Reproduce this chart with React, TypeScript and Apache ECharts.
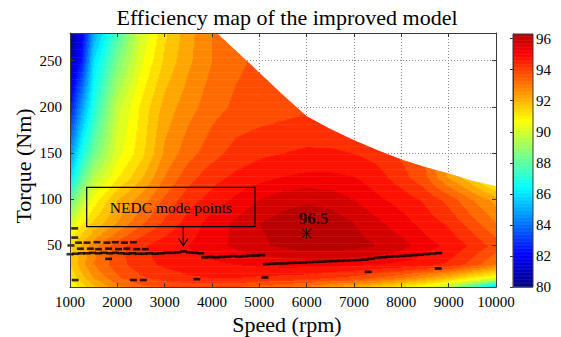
import React, { useEffect, useRef } from 'react';
import * as echarts from 'echarts';

const FONT = 'Liberation Serif';

// ---- Efficiency table ----
const speeds = [1000, 1250, 1500, 2000, 2500, 3000, 3500, 4000, 4500, 5000, 5500, 6000, 6500, 7000, 7500, 8000, 8500, 9000, 9500, 10000];
const torques = [5, 15, 30, 50, 75, 100, 125, 150, 200, 250, 280];
const effT5 = [90.5, 91.2, 91.8, 92.8, 93.3, 93.5, 93.6, 93.6, 93.5, 93.3, 93.0, 92.8, 92.4, 92.0, 91.5, 91.0, 90.4, 89.5, 87.5, 85.2];
const effT15 = [91.0, 91.8, 92.5, 93.4, 93.9, 94.2, 94.4, 94.5, 94.5, 94.4, 94.3, 94.2, 94.0, 93.8, 93.4, 93.0, 92.4, 91.8, 91.0, 90.3];
const effT30 = [91.5, 92.3, 93.0, 93.8, 94.3, 94.6, 94.8, 94.9, 95.0, 95.1, 95.2, 95.2, 95.2, 95.1, 95.0, 94.9, 94.7, 94.4, 93.8, 93.0];
const effT50 = [91.3, 92.1, 92.8, 93.8, 94.4, 94.8, 95.0, 95.3, 95.6, 95.9, 96.1, 96.3, 96.3, 96.2, 96.0, 95.7, 95.2, 94.9, 94.4, 93.8];
const effT75 = [90.0, 90.9, 91.6, 92.5, 93.4, 94.1, 94.7, 95.2, 95.6, 96.0, 96.2, 96.4, 96.3, 96.0, 95.6, 95.2, 94.8, 94.4, 93.7, 93.0];
const effT100 = [88.0, 89.6, 90.7, 92.0, 92.7, 93.6, 94.3, 94.7, 95.1, 95.5, 95.8, 95.9, 95.8, 95.5, 95.1, 94.8, 94.4, 93.8, 93.0, 92.3];
const effT125 = [85.9, 88.0, 89.5, 90.9, 91.9, 93.0, 93.8, 94.3, 94.6, 94.8, 95.0, 95.1, 95.1, 95.0, 94.7, 94.2, 93.6, 92.4, 91.5, 90.2];
const effT150 = [84.6, 86.8, 88.3, 90.3, 91.3, 92.6, 93.3, 93.8, 94.2, 94.4, 94.5, 94.6, 94.6, 94.5, 94.3, 93.9, 93.4, 92.2, 91.8, 91.2];
const effT200 = [82.3, 84.8, 87.0, 89.8, 91.1, 92.2, 92.8, 93.3, 93.6, 93.7, 93.8, 93.9, 93.8, 93.6, 93.4, 93.1, 92.7, 92.3, 91.9, 91.4];
const effT250 = [80.8, 82.6, 86.0, 88.5, 90.4, 91.6, 92.4, 93.0, 93.4, 93.6, 93.7, 93.7, 93.6, 93.4, 93.2, 92.9, 92.6, 92.2, 91.8, 91.3];
const effT280 = [80.4, 81.8, 85.0, 87.8, 90.0, 91.4, 92.3, 93.0, 93.4, 93.6, 93.6, 93.6, 93.5, 93.3, 93.1, 92.8, 92.5, 92.1, 91.7, 91.2];
const effTable = [effT5, effT15, effT30, effT50, effT75, effT100, effT125, effT150, effT200, effT250, effT280];

// ---- Maximum torque envelope ----
const envSpeed = [4100, 4500, 5000, 5500, 6000, 6500, 7000, 7500, 8000, 8500, 9000, 9500, 10000];
const envTorque = [280, 261, 237, 213, 190, 176, 164, 153, 143, 135, 128, 120, 114];

// ---- NEDC operating points ----
const nedcSpeed = [
  1100, 1100, 1180, 1360, 1570, 1780, 1955, 2150, 2340,
  1020, 1220, 1430, 1600, 1815, 2025, 2200, 2410, 2590,
  1815, 1110, 2340, 2550, 3680, 5120, 7300, 8780,
  1000, 1120, 1240, 1360, 1480, 1600, 1720, 1840, 1960, 2080, 2200, 2320, 2440, 2560, 2680, 2800, 2920, 3040, 3160, 3280, 3400, 3520, 3640, 3760,
  3850, 3970, 4090, 4210, 4330, 4450, 4570, 4690, 4810, 4930, 5050,
  5150, 5280, 5410, 5540, 5670, 5800, 5930, 6060, 6190, 6320, 6450, 6580, 6710, 6840, 6970, 7100, 7230, 7360, 7490, 7620, 7750, 7880, 8010, 8140, 8270, 8400, 8530, 8660, 8790
];
const nedcTorque = [
  68.5, 58.5, 53, 53, 53.5, 53, 53.5, 53, 53.5,
  50, 46.5, 46.5, 46, 46.5, 46, 46.5, 46, 46,
  35.5, 12.5, 12.5, 12.5, 13.5, 15.3, 21.4, 25,
  40.5, 41, 41.5, 41.5, 42, 41.5, 42, 41.5, 42, 41.5, 41, 41.5, 41, 41, 41.5, 41, 41.5, 42, 42, 42.5, 43.5, 42.5, 42, 41.5,
  37, 37.5, 37, 37.5, 38, 38.5, 38, 38.5, 39, 39, 39.5,
  29.8, 30.2, 30.5, 30.6, 31, 31.3, 31.5, 31.9, 32.2, 32.4, 32.8, 33.1, 33.3, 33.7, 34, 34.2, 34.6, 35.5, 36.8, 37.2, 37.7, 38.2, 38.6, 39, 39.5, 40, 40.6, 41.2, 41.8
];

const peakSpeed = 6000;
const peakTorque = 63;
const peakValue = 96.5;

const xTicks = [1000, 2000, 3000, 4000, 5000, 6000, 7000, 8000, 9000, 10000];
const yTicks = [50, 100, 150, 200, 250];
const cbTicks = [80, 82, 84, 86, 88, 90, 92, 94, 96];

const S_MIN = 1000, S_MAX = 10000, T_MIN = 5, T_MAX = 280;
const CB_MIN = 80, CB_MAX = 96.3;
const CMAP_MIN = 80, CMAP_MAX = 97.2;
const LEVEL = 0.5;

function clamp01(v: number) { return v < 0 ? 0 : v > 1 ? 1 : v; }
function jet(p: number) {
  const r = clamp01(Math.min(4 * p - 1.5, -4 * p + 4.5));
  const g = clamp01(Math.min(4 * p - 0.5, -4 * p + 3.5));
  const b = clamp01(Math.min(4 * p + 0.5, -4 * p + 2.5));
  return `rgb(${Math.round(r * 255)},${Math.round(g * 255)},${Math.round(b * 255)})`;
}
function colorOf(v: number) { return jet((v - CMAP_MIN) / (CMAP_MAX - CMAP_MIN)); }

function effAt(s: number, t: number) {
  let i = 0;
  while (i < speeds.length - 2 && s > speeds[i + 1]) i++;
  let j = 0;
  while (j < torques.length - 2 && t > torques[j + 1]) j++;
  const fx = clamp01((s - speeds[i]) / (speeds[i + 1] - speeds[i]));
  const fy = clamp01((t - torques[j]) / (torques[j + 1] - torques[j]));
  const r0 = effTable[j], r1 = effTable[j + 1];
  const a = r0[i] * (1 - fx) + r0[i + 1] * fx;
  const b = r1[i] * (1 - fx) + r1[i + 1] * fx;
  return a * (1 - fy) + b * fy;
}

export default function App() {
  const ref = useRef<HTMLDivElement>(null);
  useEffect(() => {
    if (!ref.current) return;
    const chart = echarts.init(ref.current, undefined, { renderer: 'svg' });

    const fieldRender = (params: any, api: any) => {
      const children: any[] = [];
      const dS = 25, dT = 1.25;
      const nCols = Math.round((S_MAX - S_MIN) / dS);
      const nRows = Math.round((T_MAX - T_MIN) / dT);
      for (let r = 0; r < nRows; r++) {
        const t0 = T_MIN + r * dT;
        const t1 = t0 + dT;
        const tc = t0 + dT / 2;
        let runStart = 0;
        let runLevel = Math.floor(effAt(S_MIN + dS / 2, tc) / LEVEL);
        for (let c = 1; c <= nCols; c++) {
          const level = c < nCols ? Math.floor(effAt(S_MIN + c * dS + dS / 2, tc) / LEVEL) : NaN;
          if (level !== runLevel) {
            const p0 = api.coord([S_MIN + runStart * dS, t1]);
            const p1 = api.coord([S_MIN + c * dS, t0]);
            children.push({
              type: 'rect',
              shape: { x: p0[0], y: p0[1], width: p1[0] - p0[0] + 0.6, height: p1[1] - p0[1] + 0.6 },
              style: { fill: colorOf((runLevel + 0.5) * LEVEL) },
              silent: true,
            });
            runLevel = level;
            runStart = c;
          }
        }
      }
      const pts: number[][] = [];
      pts.push(api.coord([S_MIN, T_MIN]));
      pts.push(api.coord([S_MAX, T_MIN]));
      for (let k = envSpeed.length - 1; k >= 0; k--) pts.push(api.coord([envSpeed[k], envTorque[k]]));
      pts.push(api.coord([S_MIN, T_MAX]));
      return {
        type: 'group',
        children,
        clipPath: { type: 'polygon', shape: { points: pts } },
      };
    };

    const cbRender = (params: any, api: any) => {
      const children: any[] = [];
      const step = 0.05;
      const n = Math.round((CB_MAX - CB_MIN) / step);
      for (let k = 0; k < n; k++) {
        const v0 = CB_MIN + k * step;
        const v1 = Math.min(CB_MAX, v0 + step);
        const p0 = api.coord([0, v1]);
        const p1 = api.coord([1, v0]);
        children.push({
          type: 'rect',
          shape: { x: p0[0], y: p0[1], width: p1[0] - p0[0], height: p1[1] - p0[1] + 0.5 },
          style: { fill: colorOf((v0 + v1) / 2) },
          silent: true,
        });
      }
      return { type: 'group', children };
    };

    const axisLineStyle = { color: '#3a3a3a', width: 1 };
    const labelStyle = { color: '#000', fontSize: 15, fontFamily: FONT };
    const txt = (text: string, x: number, y: number, size: number, extra: any = {}) => ({
      type: 'text', x, y, z: 100, ...extra,
      style: { text, fontSize: size, fontFamily: FONT, fill: '#000', textAlign: 'center', textVerticalAlign: 'middle', verticalAlign: 'middle' },
    });

    const option: any = {
      animation: false,
      backgroundColor: '#fff',
      textStyle: { fontFamily: FONT },
      grid: [
        { left: 70, top: 33, width: 426, height: 254 },
        { left: 70, top: 33, width: 426, height: 254 },
        { left: 513, top: 34, width: 20, height: 253 },
      ],
      xAxis: [
        {
          gridIndex: 0, type: 'value', min: S_MIN, max: S_MAX, interval: 1000,
          axisLine: { show: false }, axisTick: { show: false }, axisLabel: { show: false },
          splitLine: { show: true, lineStyle: { type: [1, 2], color: '#8a8a8a', width: 1 } },
        },
        {
          gridIndex: 1, type: 'value', position: 'bottom', min: S_MIN, max: S_MAX, interval: 1000, z: 10,
          axisLine: { show: true, lineStyle: axisLineStyle },
          axisTick: { show: true, inside: true, length: 4, lineStyle: axisLineStyle },
          axisLabel: { ...labelStyle, margin: 7, formatter: (v: number) => (xTicks.includes(v) ? String(v) : '') },
          splitLine: { show: false },
        },
        {
          gridIndex: 1, type: 'value', position: 'top', min: S_MIN, max: S_MAX, interval: 1000, z: 10,
          axisLine: { show: true, lineStyle: axisLineStyle },
          axisTick: { show: true, inside: true, length: 4, lineStyle: axisLineStyle },
          axisLabel: { show: false }, splitLine: { show: false },
        },
        { gridIndex: 2, type: 'value', min: 0, max: 1, show: false },
      ],
      yAxis: [
        {
          gridIndex: 0, type: 'value', min: T_MIN, max: T_MAX,
          axisLine: { show: false }, axisTick: { show: false }, axisLabel: { show: false },
          splitLine: { show: true, lineStyle: { type: [1, 2], color: '#8a8a8a', width: 1 } },
        },
        {
          gridIndex: 1, type: 'value', position: 'left', min: T_MIN, max: T_MAX, z: 10,
          axisLine: { show: true, lineStyle: axisLineStyle },
          axisTick: { show: true, inside: true, length: 4, lineStyle: axisLineStyle, customValues: yTicks },
          axisLabel: { ...labelStyle, margin: 8, customValues: yTicks, formatter: (v: number) => (yTicks.includes(v) ? String(v) : '') },
          splitLine: { show: false },
        },
        {
          gridIndex: 1, type: 'value', position: 'right', min: T_MIN, max: T_MAX, z: 10,
          axisLine: { show: true, lineStyle: axisLineStyle },
          axisTick: { show: true, inside: true, length: 4, lineStyle: axisLineStyle, customValues: yTicks },
          axisLabel: { show: false }, splitLine: { show: false },
        },
        {
          gridIndex: 2, type: 'value', position: 'right', min: CB_MIN, max: CB_MAX, interval: 2, z: 10,
          axisLine: { show: true, lineStyle: axisLineStyle },
          axisTick: { show: true, inside: true, length: 3, lineStyle: axisLineStyle, customValues: cbTicks },
          axisLabel: { ...labelStyle, margin: 3, customValues: cbTicks, formatter: (v: number) => (cbTicks.includes(v) ? String(v) : '') },
          splitLine: { show: false },
        },
      ],
      series: [
        {
          type: 'custom', name: 'efficiency', xAxisIndex: 0, yAxisIndex: 0,
          data: [[S_MIN, T_MIN]], renderItem: fieldRender, clip: true, z: 2, silent: true,
        },
        {
          type: 'scatter', name: 'NEDC mode points', xAxisIndex: 0, yAxisIndex: 0,
          data: nedcSpeed.map((s, i) => [s, nedcTorque[i]]),
          symbol: 'rect', symbolSize: [7, 2.6], itemStyle: { color: '#000' }, clip: true, z: 3, silent: true,
        },
        {
          type: 'scatter', name: 'peak', xAxisIndex: 0, yAxisIndex: 0,
          data: [[peakSpeed, peakTorque]],
          symbol: 'path://M46,0L54,0L54,100L46,100Z M0,46L100,46L100,54L0,54Z M10,4L96,90L90,96L4,10Z M90,4L96,10L10,96L4,90Z',
          symbolSize: 11, itemStyle: { color: '#000' }, z: 4, silent: true,
          label: {
            show: true, position: 'top', distance: 1, offset: [7, 0], formatter: String(peakValue),
            color: '#000', fontSize: 17, fontWeight: 'bold', fontFamily: FONT,
          },
        },
        {
          type: 'custom', name: 'colorbar', xAxisIndex: 3, yAxisIndex: 3,
          data: [[0, CB_MIN]], renderItem: cbRender, z: 2, silent: true,
        },
      ],
      graphic: [
        txt('Efficiency map of the improved model', 287, 17, 22),
        txt('Speed (rpm)', 287, 324, 22),
        txt('Torque (Nm)', 23, 166, 22, { rotation: Math.PI / 2 }),
        {
          type: 'rect', z: 100, shape: { x: 86.7, y: 187.3, width: 168.3, height: 39.4 },
          style: { fill: 'none', stroke: '#000', lineWidth: 1.2 },
        },
        txt('NEDC mode points', 171, 207, 15.5),
        {
          type: 'line', z: 100, shape: { x1: 183.3, y1: 226.7, x2: 183.3, y2: 245.5 },
          style: { stroke: '#000', lineWidth: 1.2 },
        },
        {
          type: 'polyline', z: 100, shape: { points: [[178.5, 238.5], [183.3, 245.5], [188, 238.5]] },
          style: { stroke: '#000', lineWidth: 1.2, fill: 'none' },
        },
        {
          type: 'rect', z: 100, shape: { x: 513, y: 34, width: 20, height: 253 },
          style: { fill: 'none', stroke: '#3a3a3a', lineWidth: 1 },
        },
      ],
    };
    chart.setOption(option);
    return () => chart.dispose();
  }, []);
  return (
    <div
      ref={ref}
      style={{ position: 'fixed', left: 0, top: 0, width: 561, height: 337, background: '#fff' }}
    />
  );
}
